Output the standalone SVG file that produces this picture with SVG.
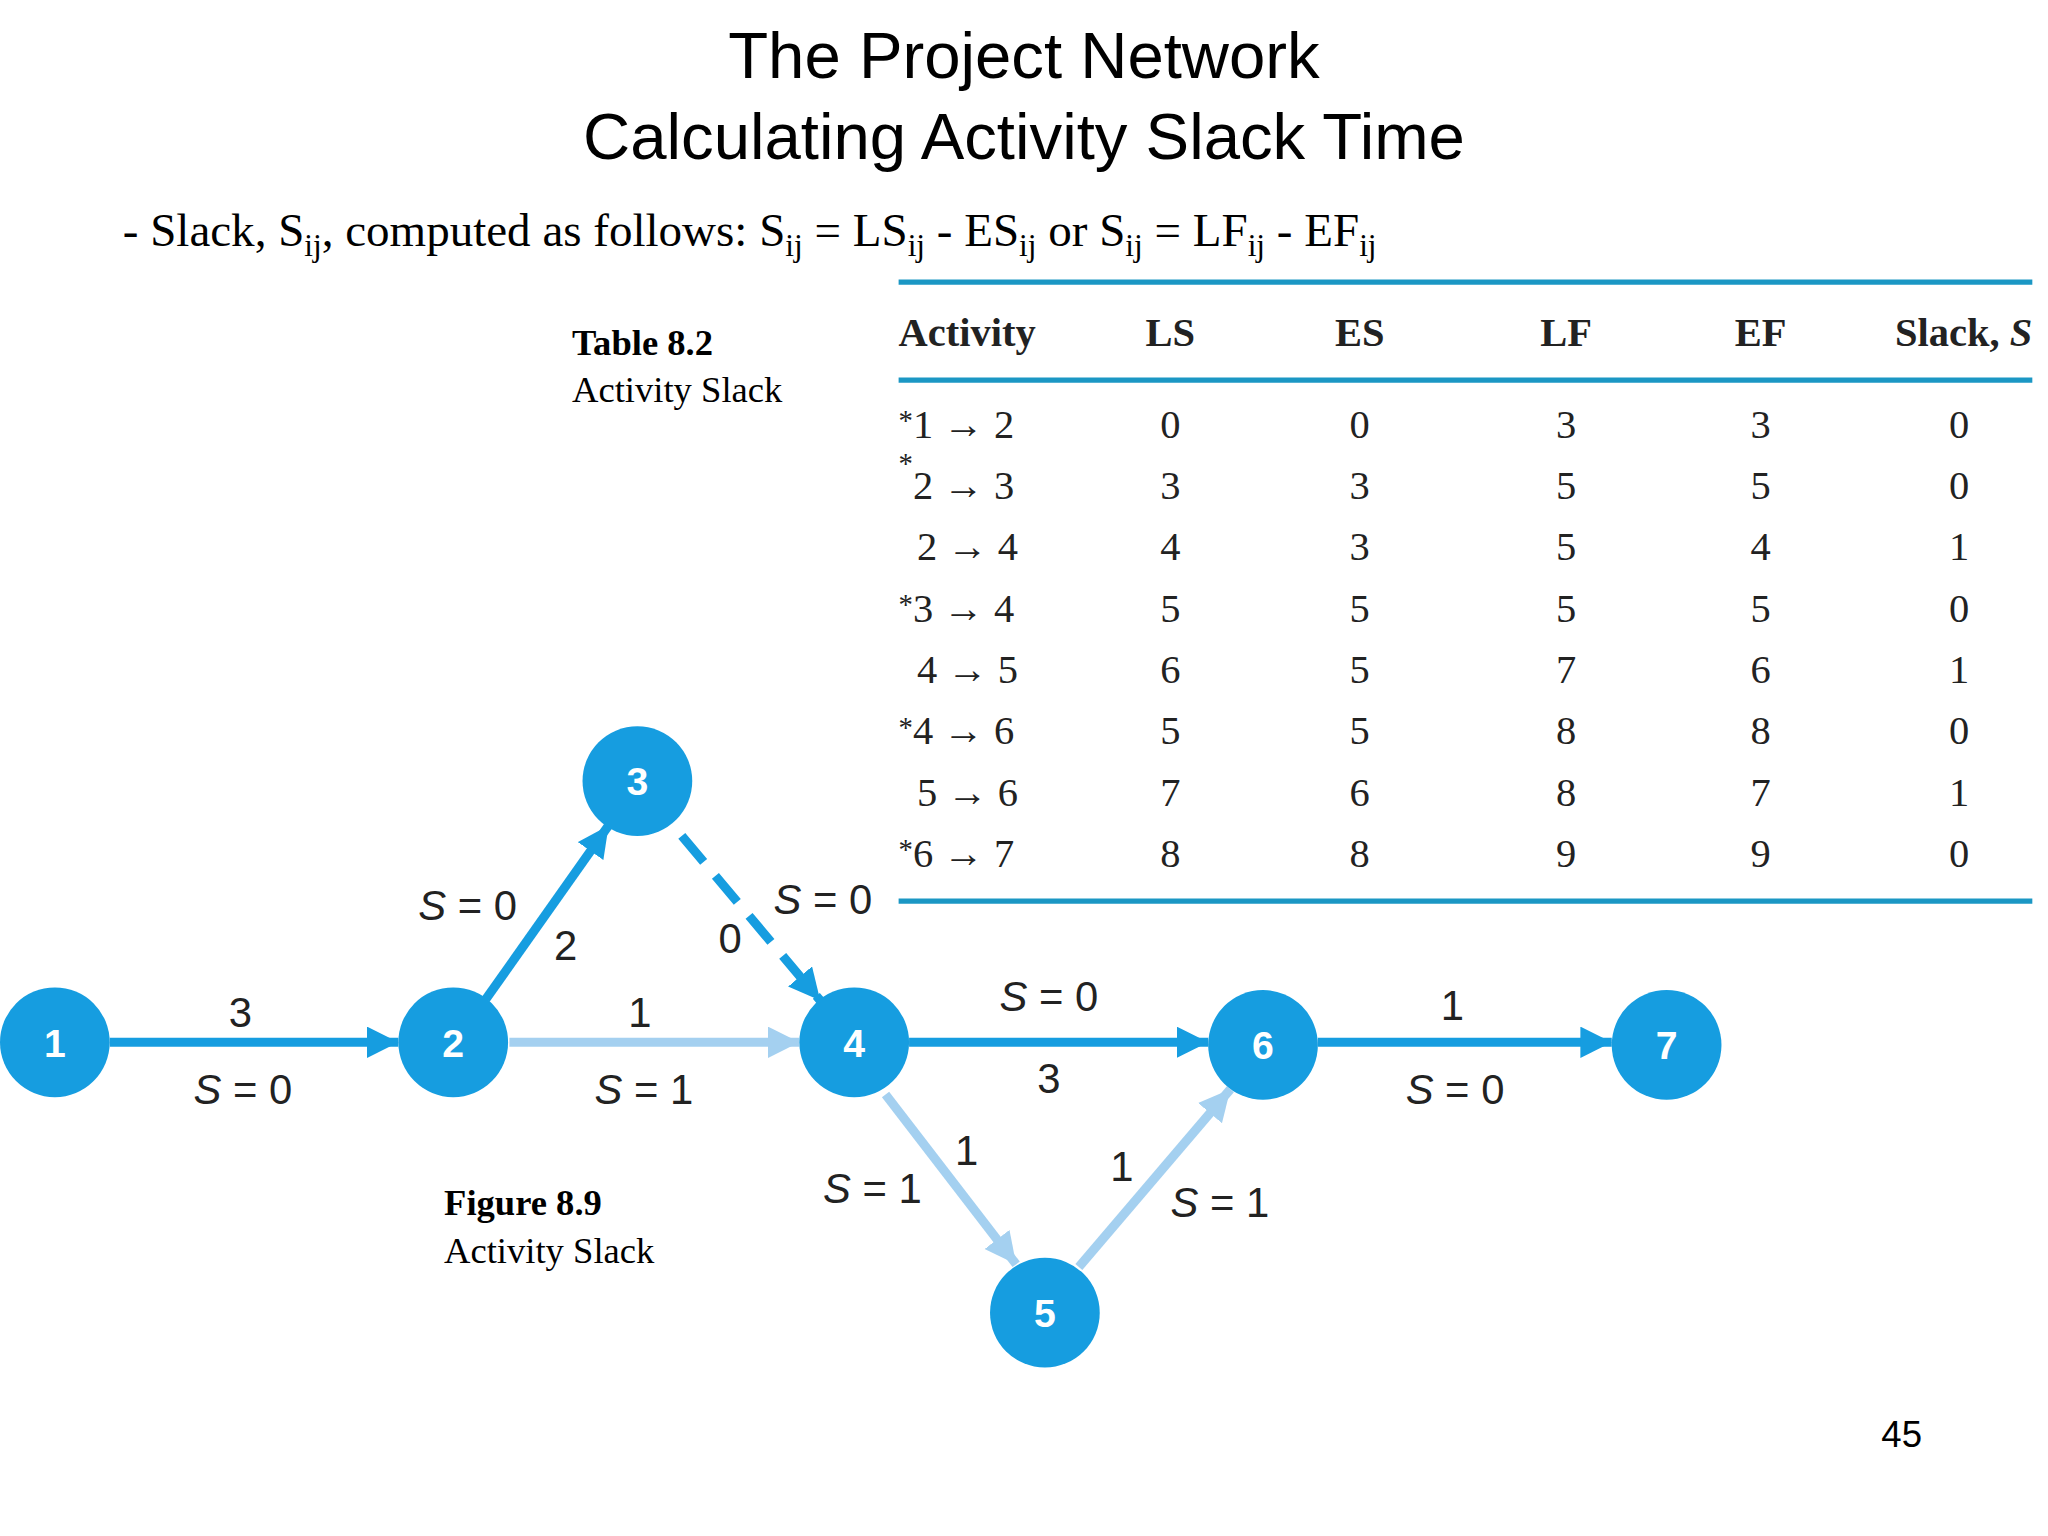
<svg xmlns="http://www.w3.org/2000/svg" width="2048" height="1536" viewBox="0 0 2048 1536">
<style>
.t{font-family:"Liberation Sans",Arial,sans-serif;font-size:50px;text-anchor:middle;fill:#000}
.sr{font-family:"Liberation Serif","Times New Roman",serif;fill:#000}
.h{font-family:"Liberation Serif",serif;font-size:31px;font-weight:bold;fill:#222}
.c{font-family:"Liberation Serif",serif;font-size:31px;fill:#222;text-anchor:middle}
.nl{font-family:"Liberation Sans",Arial,sans-serif;font-size:30px;font-weight:bold;fill:#fff;text-anchor:middle}
.el{font-family:"Liberation Sans",Arial,sans-serif;font-size:32px;fill:#222;text-anchor:middle}
.node{fill:#169de0}
.e{stroke:#169de0;stroke-width:7;fill:none}
.l{stroke:#a4d0f0;stroke-width:7;fill:none}
.tl{stroke:#1b97c4;stroke-width:4}
</style>
<defs>
<marker id="a" markerUnits="userSpaceOnUse" markerWidth="30" markerHeight="30" refX="24" refY="12" orient="auto"><path d="M0,0 L24,12 L0,24 Z" fill="#169de0"/></marker>
<marker id="b" markerUnits="userSpaceOnUse" markerWidth="30" markerHeight="30" refX="24" refY="12" orient="auto"><path d="M0,0 L24,12 L0,24 Z" fill="#a4d0f0"/></marker>
</defs>
<rect width="2048" height="1536" fill="#fff"/>
<g transform="scale(1.30612)">
<g id="title">
<text class="t" x="784" y="60">The Project Network</text>
<text class="t" x="784" y="122">Calculating Activity Slack Time</text>
<text class="sr" x="94" y="188" font-size="36">- Slack, S<tspan font-size="24" dy="8">ij</tspan><tspan dy="-8">, computed as follows:   S</tspan><tspan font-size="24" dy="8">ij</tspan><tspan dy="-8"> = LS</tspan><tspan font-size="24" dy="8">ij</tspan><tspan dy="-8"> - ES</tspan><tspan font-size="24" dy="8">ij</tspan><tspan dy="-8">  or   S</tspan><tspan font-size="24" dy="8">ij</tspan><tspan dy="-8"> = LF</tspan><tspan font-size="24" dy="8">ij</tspan><tspan dy="-8"> - EF</tspan><tspan font-size="24" dy="8">ij</tspan></text>
</g>
<g id="table">
<text class="sr" x="438" y="272" font-size="28" font-weight="bold">Table 8.2</text>
<text class="sr" x="438" y="308" font-size="28">Activity Slack</text>
<line class="tl" x1="688" y1="216" x2="1556" y2="216"/>
<line class="tl" x1="688" y1="291" x2="1556" y2="291"/>
<line class="tl" x1="688" y1="690" x2="1556" y2="690"/>
<text class="h" x="688" y="265">Activity</text>
<text class="h" x="896" y="265" text-anchor="middle">LS</text>
<text class="h" x="1041" y="265" text-anchor="middle">ES</text>
<text class="h" x="1199" y="265" text-anchor="middle">LF</text>
<text class="h" x="1348" y="265" text-anchor="middle">EF</text>
<text class="h" x="1556" y="265" text-anchor="end">Slack, <tspan font-style="italic">S</tspan></text>
<g class="c">
<text x="688" y="335" text-anchor="start"><tspan font-size="22" dy="-6">*</tspan><tspan dy="6">1 → 2</tspan></text>
<text x="688" y="382" text-anchor="start"><tspan font-size="22" dy="-20">*</tspan><tspan dy="20">2 → 3</tspan></text>
<text x="702" y="429" text-anchor="start">2 → 4</text>
<text x="688" y="476" text-anchor="start"><tspan font-size="22" dy="-6">*</tspan><tspan dy="6">3 → 4</tspan></text>
<text x="702" y="523" text-anchor="start">4 → 5</text>
<text x="688" y="570" text-anchor="start"><tspan font-size="22" dy="-6">*</tspan><tspan dy="6">4 → 6</tspan></text>
<text x="702" y="617" text-anchor="start">5 → 6</text>
<text x="688" y="664" text-anchor="start"><tspan font-size="22" dy="-6">*</tspan><tspan dy="6">6 → 7</tspan></text>
</g>
<g class="c">
<text x="896" y="335">0</text><text x="1041" y="335">0</text><text x="1199" y="335">3</text><text x="1348" y="335">3</text><text x="1500" y="335">0</text>
<text x="896" y="382">3</text><text x="1041" y="382">3</text><text x="1199" y="382">5</text><text x="1348" y="382">5</text><text x="1500" y="382">0</text>
<text x="896" y="429">4</text><text x="1041" y="429">3</text><text x="1199" y="429">5</text><text x="1348" y="429">4</text><text x="1500" y="429">1</text>
<text x="896" y="476">5</text><text x="1041" y="476">5</text><text x="1199" y="476">5</text><text x="1348" y="476">5</text><text x="1500" y="476">0</text>
<text x="896" y="523">6</text><text x="1041" y="523">5</text><text x="1199" y="523">7</text><text x="1348" y="523">6</text><text x="1500" y="523">1</text>
<text x="896" y="570">5</text><text x="1041" y="570">5</text><text x="1199" y="570">8</text><text x="1348" y="570">8</text><text x="1500" y="570">0</text>
<text x="896" y="617">7</text><text x="1041" y="617">6</text><text x="1199" y="617">8</text><text x="1348" y="617">7</text><text x="1500" y="617">1</text>
<text x="896" y="664">8</text><text x="1041" y="664">8</text><text x="1199" y="664">9</text><text x="1348" y="664">9</text><text x="1500" y="664">0</text>
</g>
</g>
<g id="connectors">
<line class="e" x1="84" y1="798" x2="305" y2="798" marker-end="url(#a)"/>
<line class="e" x1="372" y1="765" x2="466" y2="632" marker-end="url(#a)"/>
<line class="e" x1="522" y1="640" x2="628" y2="766" stroke-dasharray="26,14" marker-end="url(#a)"/>
<line class="l" x1="390" y1="798" x2="612" y2="798" marker-end="url(#b)"/>
<line class="e" x1="696" y1="798" x2="925" y2="798" marker-end="url(#a)"/>
<line class="e" x1="1009" y1="798" x2="1234" y2="798" marker-end="url(#a)"/>
<line class="l" x1="678" y1="838" x2="778" y2="968" marker-end="url(#b)"/>
<line class="l" x1="826" y1="970" x2="942" y2="834" marker-end="url(#b)"/>
<text class="el" x="184" y="786">3</text><text class="el" x="186" y="845"><tspan font-style="italic">S</tspan> = 0</text>
<text class="el" x="490" y="786">1</text><text class="el" x="493" y="845"><tspan font-style="italic">S</tspan> = 1</text>
<text class="el" x="358" y="704"><tspan font-style="italic">S</tspan> = 0</text><text class="el" x="433" y="735">2</text>
<text class="el" x="559" y="730">0</text><text class="el" x="630" y="700"><tspan font-style="italic">S</tspan> = 0</text>
<text class="el" x="803" y="774"><tspan font-style="italic">S</tspan> = 0</text><text class="el" x="803" y="837">3</text>
<text class="el" x="1112" y="781">1</text><text class="el" x="1114" y="845"><tspan font-style="italic">S</tspan> = 0</text>
<text class="el" x="740" y="892">1</text><text class="el" x="668" y="921"><tspan font-style="italic">S</tspan> = 1</text>
<text class="el" x="859" y="904">1</text><text class="el" x="934" y="932"><tspan font-style="italic">S</tspan> = 1</text>
</g>
<g id="n1"><circle class="node" cx="42" cy="798" r="42"/><text class="nl" x="42" y="809">1</text></g>
<g id="n2"><circle class="node" cx="347" cy="798" r="42"/><text class="nl" x="347" y="809">2</text></g>
<g id="n3"><circle class="node" cx="488" cy="598" r="42"/><text class="nl" x="488" y="609">3</text></g>
<g id="n4"><circle class="node" cx="654" cy="798" r="42"/><text class="nl" x="654" y="809">4</text></g>
<g id="n5"><circle class="node" cx="800" cy="1005" r="42"/><text class="nl" x="800" y="1016">5</text></g>
<g id="n6"><circle class="node" cx="967" cy="800" r="42"/><text class="nl" x="967" y="811">6</text></g>
<g id="n7"><circle class="node" cx="1276" cy="800" r="42"/><text class="nl" x="1276" y="811">7</text></g>
<g id="caption">
<text class="sr" x="340" y="930" font-size="28" font-weight="bold">Figure 8.9</text>
<text class="sr" x="340" y="967" font-size="28">Activity Slack</text>
<text x="1456" y="1108" font-family="Liberation Sans,Arial,sans-serif" font-size="28" text-anchor="middle">45</text>
</g>
</g>
</svg>
